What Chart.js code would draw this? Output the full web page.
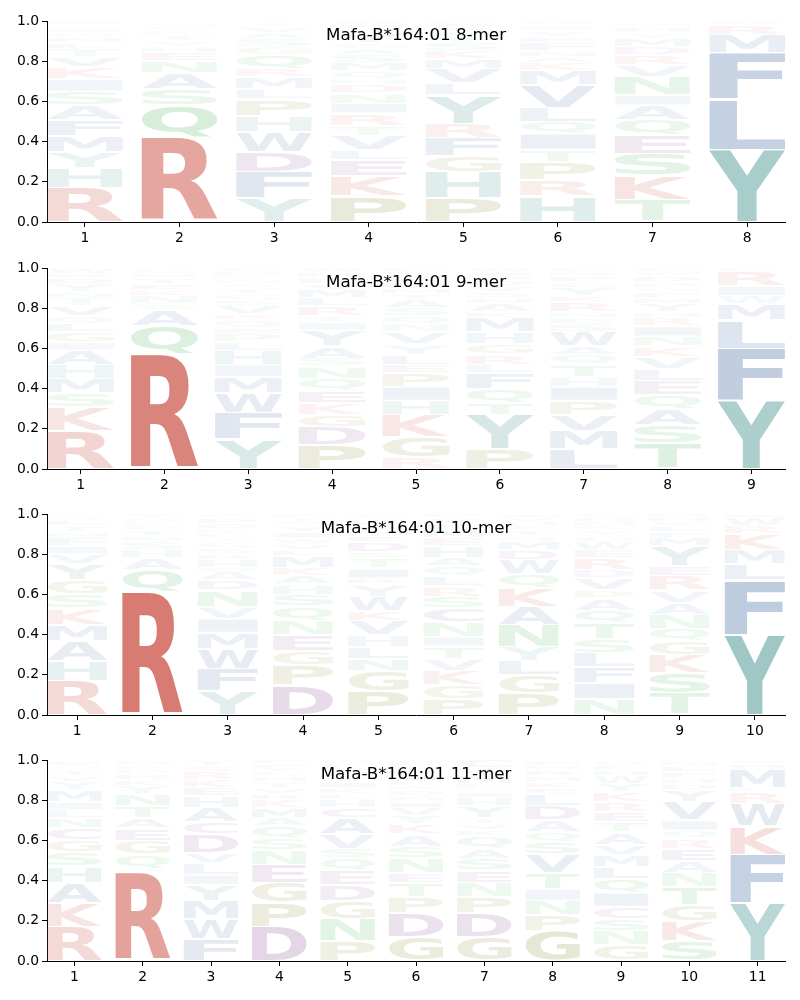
<!DOCTYPE html>
<html><head><meta charset="utf-8">
<script src="https://cdn.jsdelivr.net/npm/chart.js@4.4.1/dist/chart.umd.min.js"></script>
<style>
html,body{margin:0;padding:0;background:#fff;}
#wrap{position:relative;width:800px;height:1000px;}
.panel{position:absolute;left:0;width:800px;height:246px;}
</style></head><body><div id="wrap">
<div class="panel" style="top:0px"><canvas id="c0" width="800" height="246"></canvas></div>
<div class="panel" style="top:247px"><canvas id="c1" width="800" height="246"></canvas></div>
<div class="panel" style="top:493px"><canvas id="c2" width="800" height="246"></canvas></div>
<div class="panel" style="top:739px"><canvas id="c3" width="800" height="246"></canvas></div>
</div>
<script>
// ---- data: letters stacked bottom -> top per position, with their heights ----
const titles = ["Mafa-B*164:01 8-mer","Mafa-B*164:01 9-mer","Mafa-B*164:01 10-mer","Mafa-B*164:01 11-mer"];
const yTicks = [0, 0.2, 0.4, 0.6, 0.8, 1.0];

const mer8Letters = ["RHYMFASIKVTLNQEGWD","CRQSANEHYTKVGM","YFDWHPLMRQGSAVTN","PKELVTRINDHQMSAGYWFC",
  "PHGFRYLVMKSTNAED","HRPTIQLVMKANFEYSG","TKSEQAINVRDMYHGW","YLFMRW"];
const mer8Heights = [
  [.17,.10,.08,.08,.08,.07,.07,.06,.06,.05,.04,.03,.03,.02,.02,.01,.01,.02],
  [.01,.41,.16,.08,.08,.06,.04,.03,.03,.03,.02,.02,.02,.01],
  [.12,.13,.10,.10,.08,.08,.05,.06,.04,.07,.04,.04,.03,.03,.02,.01],
  [.13,.10,.08,.05,.07,.05,.06,.05,.05,.04,.03,.04,.04,.04,.03,.03,.05,.02,.02,.02],
  [.12,.13,.08,.09,.07,.14,.06,.07,.05,.04,.04,.03,.03,.02,.02,.01],
  [.13,.08,.09,.06,.08,.06,.07,.11,.07,.04,.03,.03,.04,.03,.03,.03,.02],
  [.11,.12,.11,.09,.08,.07,.05,.09,.06,.05,.04,.04,.03,.03,.02,.01],
  [.36,.25,.23,.09,.05,.02]
];

const mer9Letters = ["RKSMHAIGLQVTNYDEW","CRQASNKETHGY","YFWMIHLPEQRVSGTANKDC","PDGKEQNSAYITRLMVFHW",
  "RGKHIPELYVNQSATMDFWC","PYTQFLRGHMKANSVDEIW","LMVPIHTQAWSENRKYGFDC","TSAQELVKNIRHYMFGPDWC","YFLMWIRK"];
const mer9Heights = [
  [.19,.12,.07,.07,.07,.07,.04,.05,.04,.04,.05,.04,.03,.04,.03,.02,.03],
  [.01,.56,.14,.08,.03,.04,.03,.03,.03,.02,.02,.01],
  [.15,.13,.10,.08,.06,.07,.04,.04,.03,.04,.03,.04,.03,.03,.03,.02,.02,.02,.02,.02],
  [.12,.09,.06,.06,.06,.06,.06,.04,.06,.08,.04,.03,.05,.04,.04,.03,.03,.03,.02],
  [.06,.10,.11,.07,.07,.07,.04,.05,.05,.06,.04,.04,.04,.04,.03,.03,.03,.03,.02,.02],
  [.10,.17,.06,.07,.08,.04,.05,.05,.06,.07,.03,.04,.03,.03,.03,.03,.02,.02,.02],
  [.10,.09,.08,.07,.07,.05,.06,.05,.04,.07,.04,.03,.03,.05,.03,.04,.03,.03,.02,.02],
  [.13,.09,.08,.07,.07,.06,.06,.05,.05,.05,.04,.03,.04,.03,.03,.02,.03,.03,.02,.02],
  [.34,.26,.14,.08,.04,.05,.07,.02]
];

const mer10Letters = ["RHAMKSGYVIFNTLQE","CRQAHSNTEKGY","YFWMIVNDAEHRSGTLKQPC","DPGENQSHAKMLVWIYRTF",
  "PGNLHVKWYRITSDEMAFQC","PGKVTINCSRLQAHEMFYD","PGLYNAKQWDMSTEHVI","NIFLSTQAPVDREWGYKMHC",
  "TSKGQNAVREYMFLWHD","YFLMKRWI"];
const mer10Heights = [
  [.17,.10,.10,.08,.08,.07,.07,.08,.05,.04,.04,.03,.03,.03,.02,.01],
  [.01,.60,.11,.06,.04,.04,.03,.03,.02,.02,.02,.02],
  [.12,.11,.10,.08,.07,.06,.08,.05,.04,.02,.04,.03,.03,.03,.02,.02,.02,.03,.03,.02],
  [.15,.10,.07,.08,.07,.07,.06,.05,.04,.04,.06,.03,.03,.03,.03,.03,.02,.02,.02],
  [.12,.10,.06,.06,.06,.07,.05,.07,.06,.03,.05,.05,.03,.05,.03,.03,.02,.02,.02,.02],
  [.08,.07,.07,.06,.06,.05,.07,.07,.06,.05,.05,.05,.04,.06,.04,.04,.03,.03,.02],
  [.11,.09,.07,.07,.11,.09,.09,.07,.07,.05,.04,.03,.03,.02,.02,.02,.02],
  [.08,.08,.08,.07,.07,.08,.06,.06,.04,.06,.04,.06,.04,.04,.03,.03,.02,.02,.02,.02],
  [.11,.10,.09,.07,.06,.07,.06,.06,.07,.05,.10,.04,.03,.03,.02,.02,.02],
  [.40,.27,.08,.07,.08,.04,.04,.02]
];

const mer11Letters = ["RKAHSGCNLIMYVTQEF","CRSQGEATNYKHDPMI","FWMYILVDCAHEKRST","DPGENSQAMKRVTHLYIF",
  "PNGDEQSVACHLKITRMFW","GDPTENSAKYVIHQRLMFWC","GDPNESAQKVTYHIRLMFWC","GPNITVSQADLEKMRHFW",
  "GNSCIQLMVATERKYWHFDP","SKGTNAERQIVYDHFLMW","YFKWRLMHI"];
const mer11Heights = [
  [.17,.12,.10,.08,.07,.06,.06,.05,.04,.04,.06,.04,.03,.03,.02,.02,.01],
  [.01,.43,.02,.07,.07,.06,.05,.06,.06,.04,.03,.03,.02,.02,.02,.01],
  [.11,.10,.09,.08,.05,.06,.05,.09,.06,.07,.06,.04,.04,.04,.03,.03],
  [.17,.12,.10,.09,.07,.06,.06,.04,.05,.04,.03,.03,.03,.03,.02,.02,.02,.02],
  [.10,.11,.09,.08,.07,.06,.05,.07,.08,.05,.04,.03,.03,.03,.03,.02,.02,.02,.02],
  [.12,.12,.08,.07,.05,.07,.06,.06,.05,.04,.04,.03,.03,.03,.02,.02,.03,.03,.02,.03],
  [.12,.12,.08,.07,.06,.06,.05,.06,.03,.03,.03,.06,.04,.03,.02,.02,.04,.01,.03,.04],
  [.15,.08,.07,.06,.08,.09,.06,.05,.06,.07,.06,.03,.03,.03,.03,.02,.02,.01],
  [.08,.07,.06,.06,.07,.07,.06,.06,.05,.06,.05,.05,.05,.05,.04,.04,.03,.02,.02,.01],
  [.10,.10,.08,.09,.07,.06,.06,.05,.04,.05,.09,.06,.03,.03,.03,.03,.02,.01],
  [.29,.24,.14,.11,.06,.02,.09,.03,.02]
];

// ---- style ----
const RED=[199,69,55], TEAL=[48,135,132], BLUE=[51,96,155], PURPLE=[120,50,130], OLIVE=[120,120,20], GREEN=[40,165,60];
const AA_COLORS = {R:RED,K:RED,Y:TEAL,H:TEAL,F:BLUE,L:BLUE,M:BLUE,I:BLUE,V:BLUE,W:BLUE,A:BLUE,
  D:PURPLE,E:PURPLE,C:PURPLE,P:OLIVE,G:OLIVE,S:GREEN,T:GREEN,N:GREEN,Q:GREEN};
const FONT = '"DejaVu Sans", "Liberation Sans", sans-serif';
const VPAD = 0.9;

function drawGlyph(ctx, L, x, y, w, h, color) {
  if (h <= 0.3 || w <= 0) return;
  ctx.save();
  ctx.font = 'bold 200px ' + FONT;
  ctx.textAlign = 'left';
  ctx.textBaseline = 'alphabetic';
  const m = ctx.measureText(L);
  const gl = m.actualBoundingBoxLeft, gr = m.actualBoundingBoxRight;
  const ga = m.actualBoundingBoxAscent, gd = m.actualBoundingBoxDescent;
  ctx.translate(x, y);
  ctx.scale(w / (gl + gr), h / (ga + gd));
  ctx.fillStyle = color;
  ctx.fillText(L, gl, ga);
  ctx.restore();
}

const logoPlugin = {
  id: 'logoLetters',
  afterDatasetsDraw(chart) {
    const ctx = chart.ctx;
    chart.data.datasets.forEach((ds, di) => {
      const meta = chart.getDatasetMeta(di);
      const c = AA_COLORS[ds.label];
      meta.data.forEach((el, k) => {
        const raw = ds.data[k];
        const hv = raw.y[1] - raw.y[0];
        const alpha = Math.min(1, hv * 1.17);
        const p = el.getProps(['x', 'y', 'base', 'width'], true);
        const top = Math.min(p.y, p.base) + VPAD;
        const bot = Math.max(p.y, p.base) - VPAD;
        drawGlyph(ctx, ds.label, p.x - p.width / 2, top, p.width, bot - top,
          `rgba(${c[0]},${c[1]},${c[2]},${alpha.toFixed(3)})`);
      });
    });
  }
};

const titlePlugin = {
  id: 'innerTitle',
  afterDraw(chart, args, opts) {
    const {ctx, chartArea} = chart;
    ctx.save();
    ctx.font = '16.7px ' + FONT;
    ctx.fillStyle = '#000';
    ctx.textAlign = 'center';
    ctx.textBaseline = 'middle';
    ctx.fillText(opts.text, (chartArea.left + chartArea.right) / 2, chartArea.top + 15);
    ctx.restore();
  }
};

function makeChart(id, title, letters, heights) {
  const n = letters.length;
  const positions = letters.map((_, i) => i + 1);
  const byLetter = {};
  letters.forEach((str, i) => {
    let cum = 0;
    [...str].forEach((L, j) => {
      const h = heights[i][j];
      (byLetter[L] = byLetter[L] || []).push({x: positions[i], y: [cum, cum + h]});
      cum += h;
    });
  });
  const datasets = Object.keys(byLetter).map(L => ({
    label: L, data: byLetter[L], backgroundColor: 'rgba(0,0,0,0)', borderWidth: 0,
    grouped: false, barPercentage: 0.8, categoryPercentage: 1.0
  }));
  const tickFont = {family: FONT, size: 13.9};
  const axisGrid = {display: true, drawOnChartArea: false, drawTicks: true, tickLength: 5,
    color: '#000', tickColor: '#000', tickWidth: 1, offset: false};
  new Chart(document.getElementById(id), {
    type: 'bar',
    data: {datasets},
    options: {
      responsive: false, animation: false, devicePixelRatio: 1, events: [],
      layout: {padding: {top: 21, right: 15, left: 0, bottom: 0}},
      plugins: {legend: {display: false}, tooltip: {enabled: false}, title: {display: false},
        innerTitle: {text: title}},
      scales: {
        x: {type: 'linear', min: 0.6, max: n + 0.4, offset: false, stacked: false,
          afterBuildTicks: s => { s.ticks = positions.map(v => ({value: v})); },
          afterFit: s => { s.height = 24; },
          ticks: {color: '#000', font: tickFont, padding: 3, maxRotation: 0, autoSkip: false,
            callback: v => String(v)},
          grid: axisGrid,
          border: {display: true, color: '#000', width: 1}},
        y: {min: 0, max: 1, stacked: false,
          afterBuildTicks: s => { s.ticks = yTicks.map(v => ({value: v})); },
          afterFit: s => { s.width = 47; },
          ticks: {color: '#000', font: tickFont, padding: 3, callback: v => Number(v).toFixed(1)},
          grid: axisGrid,
          border: {display: true, color: '#000', width: 1}}
      }
    },
    plugins: [logoPlugin, titlePlugin]
  });
}

makeChart('c0', titles[0], mer8Letters, mer8Heights);
makeChart('c1', titles[1], mer9Letters, mer9Heights);
makeChart('c2', titles[2], mer10Letters, mer10Heights);
makeChart('c3', titles[3], mer11Letters, mer11Heights);
</script>
</body></html>
